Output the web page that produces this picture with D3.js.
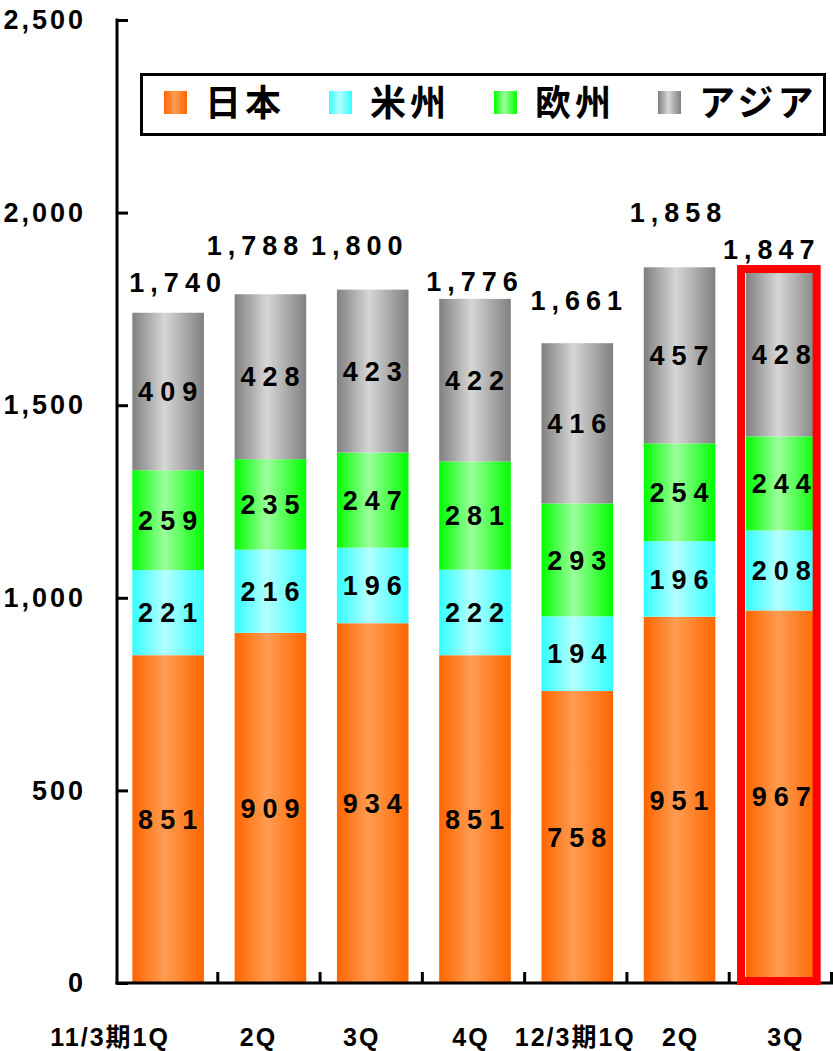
<!DOCTYPE html>
<html>
<head>
<meta charset="utf-8">
<script src="https://cdn.jsdelivr.net/npm/d3@7"></script>
<style>
  body { margin: 0; background: #fff; }
  svg { display: block; font-family: "Liberation Sans", "Noto Sans CJK JP", sans-serif; font-weight: bold; }
</style>
</head>
<body>
<svg id="grafico" width="833" height="1051"></svg>
<script>
// categorias (trimestres) y series
var periodos = ["11/3期1Q", "2Q", "3Q", "4Q", "12/3期1Q", "2Q", "3Q"];
var series = ["日本", "米州", "欧州", "アジア"];
var japon   = [851, 909, 934, 851, 758, 951, 967];
var america = [221, 216, 196, 222, 194, 196, 208];
var europa  = [259, 235, 247, 281, 293, 254, 244];
var asia    = [409, 428, 423, 422, 416, 457, 428];
var totales = [1740, 1788, 1800, 1776, 1661, 1858, 1847];
var ticksY  = [0, 500, 1000, 1500, 2000, 2500];

// ajustes a mano de las etiquetas (como en el original)
var ajusteTotal = [[7, -21], [-18, -39], [-16, -35], [-3, -8], [-1, -33], [-4, -45], [-13, -13]];
var ajusteEje = [-58, -12, -11, -4, -2, 1, 4];

var colores = [
  ["#ff6600", "#ff9c52"], // 日本
  ["#33ffff", "#b4ffff"], // 米州
  ["#00ff00", "#9cff9c"], // 欧州
  ["#808080", "#d6d6d6"]  // アジア
];

var svg = d3.select("#grafico");
var MARGEN = { izq: 117, der: 833, sup: 20, inf: 983 };

var x = d3.scaleBand().domain(d3.range(periodos.length)).range([MARGEN.izq, MARGEN.der])
  .paddingInner(0.3).paddingOuter(0.15);
var y = d3.scaleLinear().domain([0, 2500]).range([MARGEN.inf, MARGEN.sup]);

// gradientes horizontales (oscuro en bordes, claro al centro)
var defs = svg.append("defs");
colores.forEach(function (c, i) {
  var g = defs.append("linearGradient").attr("id", "grad" + i)
    .attr("x1", "0%").attr("x2", "100%").attr("y1", "0%").attr("y2", "0%");
  g.append("stop").attr("offset", "0%").attr("stop-color", c[0]);
  g.append("stop").attr("offset", "45%").attr("stop-color", c[1]);
  g.append("stop").attr("offset", "100%").attr("stop-color", c[0]);
});

// apilado
var filas = periodos.map(function (p, i) {
  return { i: i, 日本: japon[i], 米州: america[i], 欧州: europa[i], アジア: asia[i] };
});
var pila = d3.stack().keys(series)(filas);

var capas = svg.selectAll(".capa").data(pila).enter().append("g")
  .attr("fill", function (d, k) { return "url(#grad" + k + ")"; });

capas.selectAll("rect").data(function (d) { return d; }).enter().append("rect")
  .attr("x", function (d) { return x(d.data.i); })
  .attr("width", x.bandwidth())
  .attr("y", function (d) { return y(d[1]); })
  .attr("height", function (d) { return y(d[0]) - y(d[1]); });

// valores dentro de cada segmento
capas.selectAll("text").data(function (d) { return d; }).enter().append("text")
  .attr("x", function (d) { return x(d.data.i) + x.bandwidth() / 2 + 3; })
  .attr("y", function (d) { return y((d[0] + d[1]) / 2); })
  .attr("dy", "0.36em")
  .attr("text-anchor", "middle")
  .attr("fill", "#000")
  .style("font-size", "27px")
  .style("letter-spacing", "7px")
  .text(function (d) { return d[1] - d[0]; });

// totales arriba de las barras
svg.selectAll(".total").data(totales).enter().append("text")
  .attr("class", "total")
  .attr("x", function (d, i) { return x(i) + x.bandwidth() / 2 + 3 + ajusteTotal[i][0]; })
  .attr("y", function (d, i) { return y(d) + ajusteTotal[i][1]; })
  .attr("text-anchor", "middle")
  .style("font-size", "27px")
  .style("letter-spacing", "6px")
  .text(function (d) { return d3.format(",")(d); });

// eje Y (ticks hacia adentro)
var ejeY = d3.axisLeft(y).tickValues(ticksY).tickFormat(d3.format(","))
  .tickSize(-11).tickPadding(31);
var gY = svg.append("g").attr("transform", "translate(" + MARGEN.izq + ",0)").call(ejeY);
gY.select(".domain").remove();
gY.selectAll("line").attr("stroke", "#000").attr("stroke-width", 3);
gY.selectAll("text").style("font-size", "27px").style("letter-spacing", "3px")
  .style("font-family", "Liberation Sans, sans-serif").style("font-weight", "bold").attr("fill", "#000");
svg.append("line").attr("x1", MARGEN.izq).attr("x2", MARGEN.izq)
  .attr("y1", MARGEN.sup - 1.5).attr("y2", MARGEN.inf + 1.5)
  .attr("stroke", "#000").attr("stroke-width", 3);

// eje X
svg.append("line").attr("x1", MARGEN.izq - 1.5).attr("x2", MARGEN.der)
  .attr("y1", MARGEN.inf).attr("y2", MARGEN.inf)
  .attr("stroke", "#000").attr("stroke-width", 3);
svg.selectAll(".sep").data(d3.range(1, periodos.length + 1)).enter().append("line")
  .attr("x1", function (i) { return MARGEN.izq + x.step() * i - 1.5; })
  .attr("x2", function (i) { return MARGEN.izq + x.step() * i - 1.5; })
  .attr("y1", MARGEN.inf).attr("y2", MARGEN.inf - 11)
  .attr("stroke", "#000").attr("stroke-width", 3);

svg.selectAll(".periodo").data(periodos).enter().append("text")
  .attr("x", function (d, i) { return x(i) + x.bandwidth() / 2 + ajusteEje[i]; })
  .attr("y", 1046)
  .attr("text-anchor", "middle")
  .style("font-size", "25px")
  .style("letter-spacing", "2px")
  .text(function (d) { return d; });

// recuadro rojo en el ultimo trimestre
var ult = periodos.length - 1;
svg.append("rect")
  .attr("x", x(ult) - 5).attr("width", x.bandwidth() + 4)
  .attr("y", y(totales[ult]) - 2.5).attr("height", MARGEN.inf - 2 - y(totales[ult]) + 2.5)
  .attr("fill", "none").attr("stroke", "#ff0000").attr("stroke-width", 8);

// leyenda
svg.append("rect").attr("x", 141.5).attr("y", 74.5).attr("width", 683).attr("height", 60)
  .attr("fill", "#fff").attr("stroke", "#000").attr("stroke-width", 3);
var posLeyenda = [164, 329, 494, 658];
var item = svg.selectAll(".ley").data(series).enter().append("g")
  .attr("transform", function (d, i) { return "translate(" + posLeyenda[i] + ",91)"; });
item.append("rect").attr("width", 23).attr("height", 23)
  .attr("fill", function (d, i) { return "url(#grad" + i + ")"; });
item.append("text").attr("x", 41).attr("y", 12).attr("dy", "0.36em")
  .style("font-size", "36px").style("letter-spacing", "4px")
  .style("font-family", "Noto Sans CJK JP, sans-serif").style("font-weight", "bold")
  .text(function (d) { return d; });
</script>
</body>
</html>
